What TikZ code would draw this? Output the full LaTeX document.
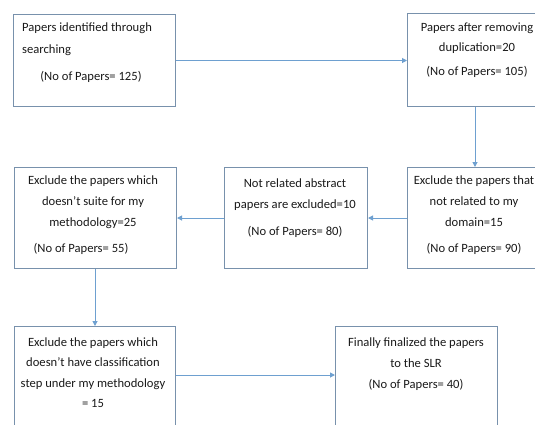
\documentclass[tikz,border=0pt]{standalone}
\usepackage{fontspec}
\setmainfont{Carlito}
\usetikzlibrary{arrows.meta}
\definecolor{boxline}{RGB}{120,145,172}
\definecolor{arrline}{RGB}{110,160,208}
\definecolor{txt}{RGB}{25,25,25}
\tikzset{
 stage/.style={draw=boxline, line width=1pt, anchor=north west, inner sep=0pt},
 flow/.style={draw=arrline, line width=1pt, -{Triangle[length=5pt,width=5pt]}},
 lbl/.style={text=txt, font=\fontsize{12.6}{21}\selectfont, inner sep=0pt, align=center, anchor=north},
}
\begin{document}
\begin{tikzpicture}[x=1pt,y=-1pt]
\useasboundingbox (0,0) rectangle (535,424);
\clip (0,0) rectangle (535,424);
% boxes
\node[stage, minimum width=162pt, minimum height=92pt] (b1) at (13,14) {};
\node[stage, minimum width=140pt, minimum height=93pt] (b2) at (407,13) {};
\node[stage, minimum width=150pt, minimum height=101pt] (b3) at (407,167) {};
\node[stage, minimum width=143pt, minimum height=101pt] (b4) at (224,167) {};
\node[stage, minimum width=162pt, minimum height=101pt] (b5) at (14,167) {};
\node[stage, minimum width=161pt, minimum height=110pt] (b6) at (14,326) {};
\node[stage, minimum width=162pt, minimum height=110pt] (b7) at (335,326) {};
% texts
\node[lbl, anchor=north west, align=left, font=\fontsize{12.6}{22}\selectfont] (t1a) at (22,22.5) {Papers identified through\\searching};
\node[lbl] (t1b) at (91,71.5) {(No of Papers= 125)};
\node[lbl, font=\fontsize{12.6}{20.5}\selectfont] (t2) at (477,22.5) {Papers after removing\\duplication=20\\[3pt](No of Papers= 105)};
\node[lbl] (t3) at (474,175.5) {Exclude the papers that\\not related to my\\domain=15\\[5pt](No of Papers= 90)};
\node[lbl] (t4) at (295,178.5) {Not related abstract\\papers are excluded=10\\[6pt](No of Papers= 80)};
\node[lbl] (t5a) at (93,175.5) {Exclude the papers which\\doesn’t suite for my\\methodology=25};
\node[lbl] (t5b) at (81,243.5) {(No of Papers= 55)};
\node[lbl, font=\fontsize{12.6}{20.5}\selectfont] (t6) at (93,337.5) {Exclude the papers which\\doesn’t have classification\\step under my methodology\\= 15};
\node[lbl] (t7) at (416,337.5) {Finally finalized the papers\\to the SLR\\(No of Papers= 40)};
% connectors
\draw[flow] (b1.east) -- (b1.east -| b2.west);
\draw[flow] ([xshift=68pt]b2.south west) -- ([xshift=68pt]b3.north west);
\draw[flow] (b3.west) -- (b4.east);
\draw[flow] (b4.west) -- (b5.east);
\draw[flow] ([xshift=81pt]b5.south west) -- ([xshift=81pt]b6.north west);
\draw[flow] ([yshift=-49pt]b6.north east) -- ([yshift=-49pt]b6.north east -| b7.west);
\end{tikzpicture}
\end{document}
